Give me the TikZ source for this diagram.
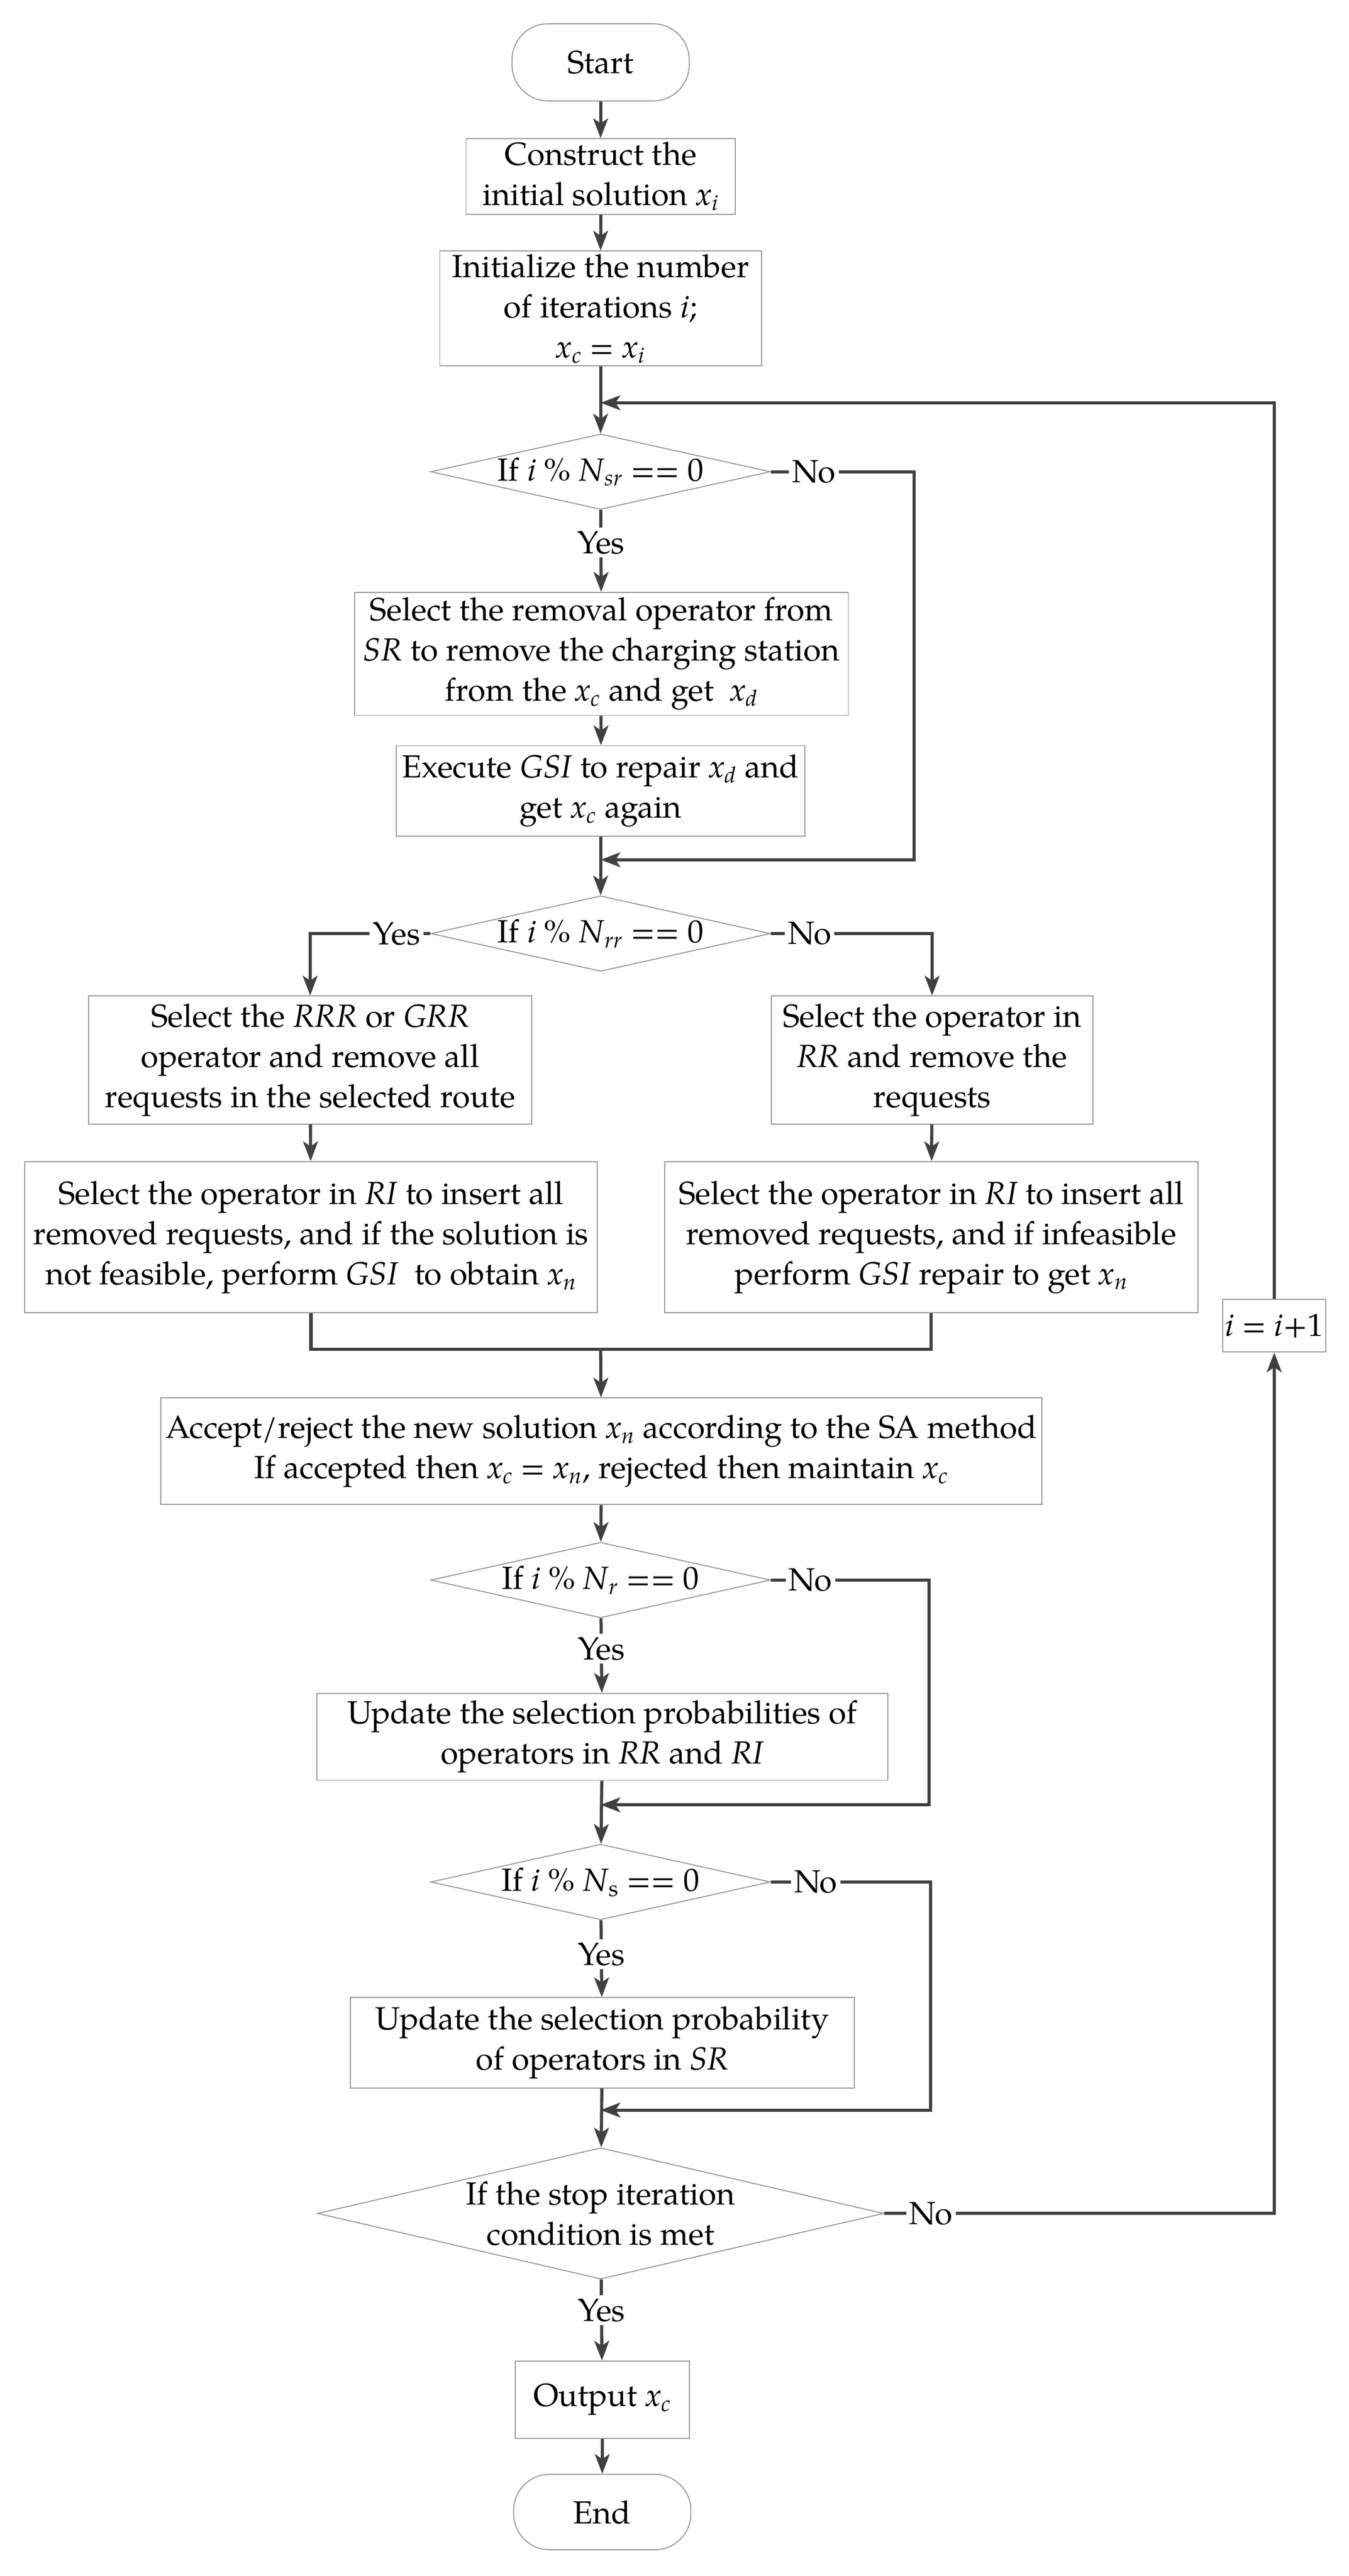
\documentclass[tikz,border=0pt]{standalone}
\usepackage{fontspec}
\setmainfont{TeX Gyre Pagella}
\usetikzlibrary{shapes.geometric,arrows.meta}
\definecolor{linec}{RGB}{64,64,64}
\definecolor{boxc}{RGB}{150,150,150}
\newcommand{\vx}[1]{\textit{x}\textsubscript{\textit{#1}}}
\newcommand{\vN}[1]{\textit{N}\textsubscript{\textit{#1}}}
\begin{document}
\begin{tikzpicture}[x=1pt,y=-1pt,
  font=\fontsize{19.5}{24.5}\selectfont,
  box/.style={draw=boxc, line width=0.6pt, align=center, inner sep=0pt},
  term/.style={box, rounded corners=22pt},
  dia/.style={diamond, draw=boxc, line width=0.6pt, inner sep=0pt, minimum width=207pt, minimum height=46pt},
  conn/.style={draw=linec, line width=1.9pt, -{Stealth[length=12pt,width=9pt,inset=3pt]}},
  plain/.style={draw=linec, line width=1.9pt},
  lbl/.style={fill=white, inner sep=2pt}]
\useasboundingbox (0,0) rectangle (822,1570);

\node[term, minimum width=108pt, minimum height=47pt] (start) at (366,38) {Start};
\node[box, minimum width=164pt, minimum height=46pt] (cons) at (366,107.5) {Construct the\\initial solution \vx{i}};
\node[box, minimum width=196pt, minimum height=70pt] (init) at (366,188) {Initialize the number\\of iterations \textit{i};\\\vx{c} = \vx{i}};
\coordinate (m0) at (366,245.5);
\node[dia, label={center:If \textit{i} \% \vN{sr} == 0}] (d1) at (366,287.5) {};
\node[box, minimum width=301pt, minimum height=75pt] (sr) at (366.5,398.5) {Select the removal operator from\\\textit{SR} to remove the charging station\\from the \vx{c} and get \ \vx{d}};
\node[box, minimum width=249pt, minimum height=55pt] (gsi) at (366,482) {Execute \textit{GSI} to repair \vx{d} and\\get \vx{c} again};
\coordinate (m1) at (366,524);
\coordinate (r1c) at (557,524);
\node[dia, label={center:If \textit{i} \% \vN{rr} == 0}] (d2) at (366,569) {};
\node[box, minimum width=270pt, minimum height=78pt] (l1) at (189,646) {Select the \textit{RRR} or \textit{GRR}\\operator and remove all\\requests in the selected route};
\node[box, minimum width=196pt, minimum height=78pt] (r1) at (568,646) {Select the operator in\\\textit{RR} and remove the\\requests};
\node[box, minimum width=349pt, minimum height=92pt] (l2) at (189.5,754) {Select the operator in \textit{RI} to insert all\\removed requests, and if the solution is\\not feasible, perform \textit{GSI} \ to obtain \vx{n}};
\node[box, minimum width=325pt, minimum height=92pt] (r2) at (567.5,754) {Select the operator in \textit{RI} to insert all\\removed requests, and if infeasible\\perform \textit{GSI} repair to get \vx{n}};
\coordinate (m2) at (366,822.5);
\node[box, minimum width=537pt, minimum height=65pt] (acc) at (366.5,884.5) {Accept/reject the new solution \vx{n} according to the SA method\\If accepted then \vx{c} = \vx{n}, rejected then maintain \vx{c}};
\node[dia, label={center:If \textit{i} \% \vN{r} == 0}] (d3) at (366,963) {};
\coordinate (r3c) at (566,1100);
\coordinate (m3) at (366,1100);
\node[box, minimum width=348pt, minimum height=53pt] (u1) at (367,1058.5) {Update the selection probabilities of\\operators in \textit{RR} and \textit{RI}};
\node[dia, label={center:If \textit{i} \% \textit{N}\textsubscript{s} == 0}] (d4) at (366,1147) {};
\coordinate (r4c) at (567,1286);
\coordinate (m4) at (366,1286);
\node[box, minimum width=307pt, minimum height=55pt] (u2) at (367,1245) {Update the selection probability\\of operators in \textit{SR}};
\node[dia, minimum width=345pt, minimum height=80pt, label={[align=center]center:If the stop iteration\\condition is met}] (d5) at (366,1349) {};
\node[box, minimum width=106pt, minimum height=47pt] (out) at (367,1462.5) {Output \vx{c}};
\node[term, minimum width=108pt, minimum height=46pt] (end) at (367,1531) {End};
\node[box, minimum width=63pt, minimum height=32pt] (inc) at (776.5,808) {\textit{i} = \textit{i}+1};

\draw[conn] (start) -- (cons);
\draw[conn] (cons) -- (init);
\draw[conn] (init) -- (d1);
\draw[conn] (d1) -- node[lbl,pos=0.4]{Yes} (sr);
\draw[conn] (sr) -- (gsi);
\draw[conn] (gsi) -- (d2);
\draw[conn] (d1.east) -- node[lbl,pos=0.3]{No} (d1.east -| r1c) |- (m1);
\draw[conn] (d2.west) -- node[lbl,pos=0.28]{Yes} (d2.west -| l1.north) -- (l1.north);
\draw[conn] (d2.east) -- node[lbl,pos=0.24]{No} (d2.east -| r1.north) -- (r1.north);
\draw[conn] (l1) -- (l2);
\draw[conn] (r1) -- (r2);
\draw[plain] (l2.south) -- (l2.south |- m2) -- (r2.south |- m2) -- (r2.south);
\draw[conn] (m2) -- (acc);
\draw[conn] (acc) -- (d3);
\draw[conn] (d3) -- node[lbl,pos=0.41]{Yes} (u1);
\draw[conn] (d3.east) -- node[lbl,pos=0.25]{No} (d3.east -| r3c) |- (m3);
\draw[conn] (u1) -- (d4);
\draw[conn] (d4) -- node[lbl,pos=0.44]{Yes} (u2);
\draw[conn] (d4.east) -- node[lbl,pos=0.28]{No} (d4.east -| r4c) |- (m4);
\draw[conn] (u2) -- (d5);
\draw[conn] (d5) -- node[lbl,pos=0.38]{Yes} (out);
\draw[conn] (out) -- (end);
\draw[conn] (d5.east) -- node[lbl,pos=0.12]{No} (d5.east -| inc) -- (inc.south);
\draw[conn] (inc.north) -- (inc.north |- m0) -- (m0);
\end{tikzpicture}
\end{document}
